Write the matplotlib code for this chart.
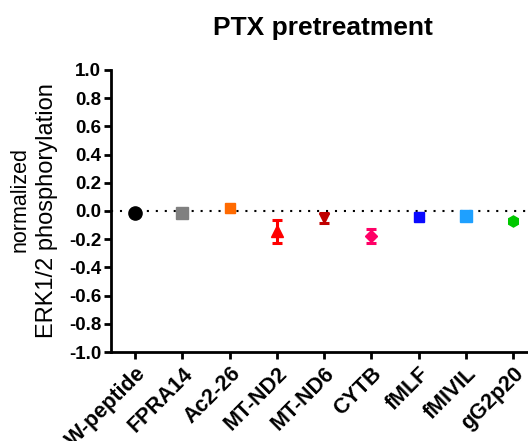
import numpy as np
import matplotlib.pyplot as plt
import matplotlib as mpl

# data
peptides = ['W-peptide', 'FPRA14', 'Ac2-26', 'MT-ND2', 'MT-ND6', 'CYTB', 'fMLF', 'fMIVIL', 'gG2p20']
means = [-0.015, -0.015, 0.02, -0.145, -0.05, -0.18, -0.04, -0.035, -0.07]
errs = [0.005, 0.005, 0.025, 0.08, 0.035, 0.05, 0.01, 0.01, 0.01]
colors = ['#000000', '#808080', '#ff6a00', '#ff0000', '#c00000', '#ff0066', '#0a0aff', '#1ea0ff', '#00c800']
markers = ['o', 's', 's', '^', 'v', 'D', 's', 's', 'h']
msizes = [9.5, 8.6, 6.5, 8.5, 7, 6.5, 7.2, 8, 8]
yticks = [-1.0, -0.8, -0.6, -0.4, -0.2, 0.0, 0.2, 0.4, 0.6, 0.8, 1.0]

mpl.rcParams['axes.unicode_minus'] = False
plt.rc('font', family='Liberation Sans', weight='bold', size=13.5)

fig = plt.figure(figsize=(5.28, 4.41), dpi=100)
ax = fig.add_axes([0.21, 0.2018, 0.80, 0.6395])

x = np.arange(len(peptides))
ax.axhline(0, color='k', lw=1.5, ls=(0, (1, 3.3)), zorder=1)
for i in range(len(peptides)):
    ax.errorbar(x[i], means[i], yerr=errs[i], color=colors[i], marker=markers[i],
                markersize=msizes[i], elinewidth=2.2, capsize=3.6, capthick=2.2, zorder=3)

ax.set_xlim(-0.515, 8.43)
ax.set_ylim(-1.0, 1.0)
ax.set_yticks(yticks)
ax.set_yticklabels(['%.1f' % v for v in yticks])
ax.set_xticks(x)
ax.set_xticklabels(peptides, rotation=45, ha='right', rotation_mode='anchor')

for s in ['top', 'right']:
    ax.spines[s].set_visible(False)
ax.spines['left'].set_linewidth(2)
ax.spines['bottom'].set_linewidth(2)
ax.tick_params(direction='out', length=5, width=2, labelsize=13.5, pad=2)
ax.tick_params(axis='x', labelsize=15.5, pad=3)

# two-line y label
fig.text(20 / 528, 1 - 200 / 441, 'normalized', rotation=90, ha='center', va='center',
         fontsize=15.5, fontweight='normal')
fig.text(47 / 528, 1 - 211 / 441, 'ERK1/2 phosphorylation', rotation=90, ha='center', va='center',
         fontsize=17, fontweight='normal')
fig.text(323 / 528, 1 - 28 / 441, 'PTX pretreatment', ha='center', va='center',
         fontsize=19, fontweight='bold')

plt.savefig('out.png', dpi=100)
